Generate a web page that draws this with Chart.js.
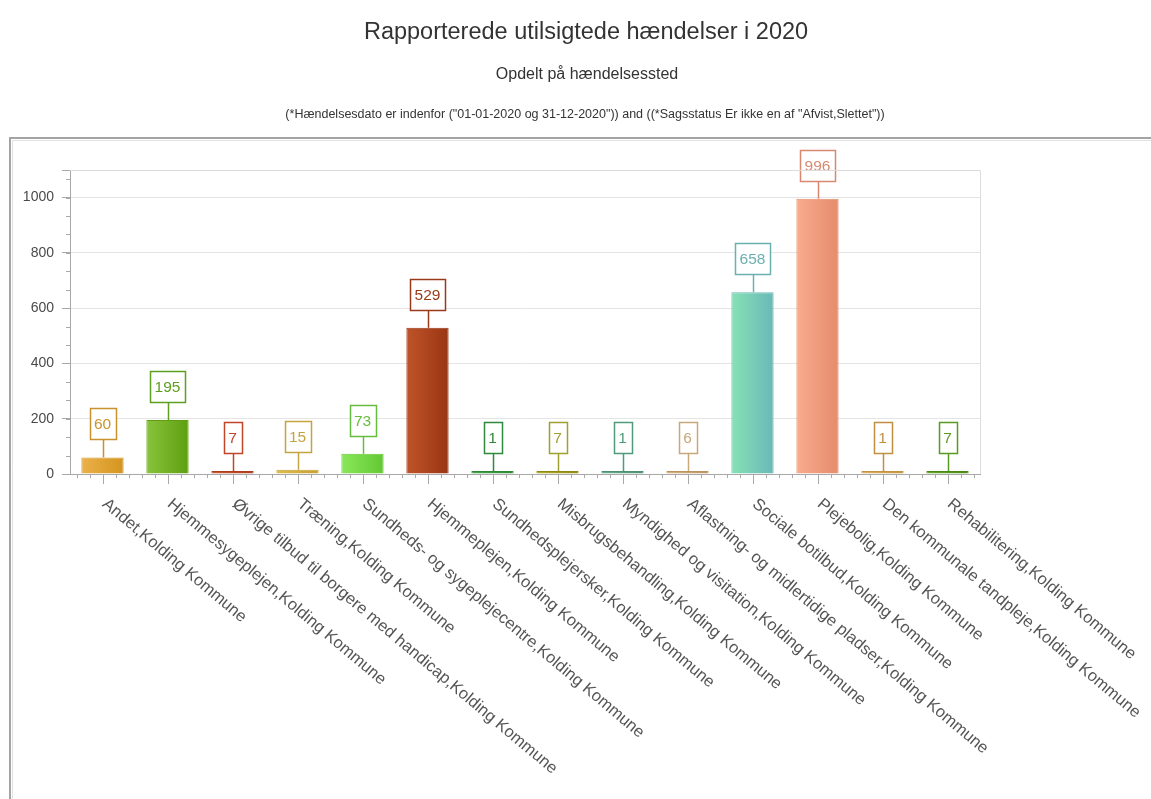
<!DOCTYPE html>
<html>
<head>
<meta charset="utf-8">
<script src="https://cdn.jsdelivr.net/npm/chart.js@4"></script>
<style>
  html, body { margin: 0; padding: 0; background: #fff; }
  #wrap { position: relative; width: 1151px; height: 799px; }
</style>
</head>
<body>
<div id="wrap"><canvas id="chart"></canvas></div>
<script>
'use strict';

const titleText = 'Rapporterede utilsigtede hændelser i 2020';
const subtitleText = 'Opdelt på hændelsessted';
const filterText = '(*Hændelsesdato er indenfor ("01-01-2020 og 31-12-2020")) and ((*Sagsstatus Er ikke en af "Afvist,Slettet"))';

const categories = [
  'Andet,Kolding Kommune',
  'Hjemmesygeplejen,Kolding Kommune',
  'Øvrige tilbud til borgere med handicap,Kolding Kommune',
  'Træning,Kolding Kommune',
  'Sundheds- og sygeplejecentre,Kolding Kommune',
  'Hjemmeplejen,Kolding Kommune',
  'Sundhedsplejersker,Kolding Kommune',
  'Misbrugsbehandling,Kolding Kommune',
  'Myndighed og visitation,Kolding Kommune',
  'Aflastning- og midlertidige pladser,Kolding Kommune',
  'Sociale botilbud,Kolding Kommune',
  'Plejebolig,Kolding Kommune',
  'Den kommunale tandpleje,Kolding Kommune',
  'Rehabilitering,Kolding Kommune',
];
const values = [60, 195, 7, 15, 73, 529, 1, 7, 1, 6, 658, 996, 1, 7];
const yTicks = [0, 200, 400, 600, 800, 1000];

// farver: lys venstre kant, mørk højre kant, label-farve
const barLight = ['#ebb24a', '#88c43c', '#c85a36', '#dcbc4c', '#8ae85a', '#bf5429', '#4aa64e', '#b2ae2c', '#6aae8c', '#d6b484', '#86e2b4', '#f9ac8e', '#ddb262', '#68a82c'];
const barDark = ['#d4941e', '#5e9e10', '#ae3e1c', '#c8a030', '#62c832', '#993513', '#2e8a34', '#908a10', '#4e9274', '#bc9460', '#6ab8b8', '#e48c6c', '#c49440', '#4a8a12'];
const labelColors = ['#c8922a', '#5e9e20', '#c0462a', '#c4a440', '#66bc3c', '#9a3a1a', '#2e8a3a', '#a0a030', '#4e9a7a', '#c8a878', '#6ab0b0', '#d88870', '#c09040', '#5a9a20'];

const FONT = '"Liberation Sans", Arial, sans-serif';

const headerPlugin = {
  id: 'header',
  beforeDraw(chart) {
    const c = chart.ctx;
    c.save();
    // panel kant
    c.strokeStyle = '#a4a4a4';
    c.lineWidth = 2;
    c.beginPath();
    c.moveTo(10, 799);
    c.lineTo(10, 138);
    c.lineTo(1151, 138);
    c.stroke();
    c.strokeStyle = '#e2e2e2';
    c.lineWidth = 1;
    c.beginPath();
    c.moveTo(12.5, 799);
    c.lineTo(12.5, 140.5);
    c.lineTo(1151, 140.5);
    c.stroke();

    c.fillStyle = '#333';
    c.textAlign = 'center';
    c.textBaseline = 'middle';
    c.font = '23.5px ' + FONT;
    c.fillText(titleText, 586, 33);
    c.font = '16px ' + FONT;
    c.fillText(subtitleText, 587, 75);
    c.font = '12.5px ' + FONT;
    c.fillText(filterText, 585, 115);
    c.restore();
  },
};

const axisExtrasPlugin = {
  id: 'axisExtras',
  afterDraw(chart) {
    const c = chart.ctx;
    const { left, right, top, bottom } = chart.chartArea;
    const xs = chart.scales.x;
    const ys = chart.scales.y;
    c.save();
    // ramme top/højre
    c.strokeStyle = '#dcdcdc';
    c.lineWidth = 1;
    c.beginPath();
    c.moveTo(left, top + 0.5);
    c.lineTo(right + 0.5, top + 0.5);
    c.lineTo(right + 0.5, bottom);
    c.stroke();

    // x ticks
    const step = (xs.getPixelForValue(1) - xs.getPixelForValue(0)) / 5;
    c.strokeStyle = '#a8a8a8';
    const c0 = xs.getPixelForValue(0);
    for (let k = -2; k <= categories.length * 5; k++) {
      const x = Math.round(c0 + k * step) + 0.5;
      if (x < left || x > right + 1) continue;
      const major = k % 5 === 0;
      c.beginPath();
      c.moveTo(x, bottom);
      c.lineTo(x, bottom + (major ? 10 : 4));
      c.stroke();
    }
    // y minor ticks
    for (let v = 0; v <= 1100; v += 200 / 3) {
      const y = Math.round(ys.getPixelForValue(v)) + 0.5;
      c.beginPath();
      c.moveTo(left - 4, y);
      c.lineTo(left, y);
      c.stroke();
    }

    // roterede kategorinavne
    c.fillStyle = '#555';
    c.font = '16.5px ' + FONT;
    c.textAlign = 'left';
    c.textBaseline = 'middle';
    categories.forEach((label, i) => {
      const x = xs.getPixelForValue(i);
      c.save();
      c.translate(x + 2, bottom + 28);
      c.rotate((40 * Math.PI) / 180);
      c.fillText(label, 0, 0);
      c.restore();
    });
    c.restore();
  },
};

const valueBoxPlugin = {
  id: 'valueBoxes',
  afterDatasetsDraw(chart) {
    const c = chart.ctx;
    const meta = chart.getDatasetMeta(0);
    c.save();
    c.font = '15.5px ' + FONT;
    c.textAlign = 'center';
    c.textBaseline = 'middle';
    meta.data.forEach((bar, i) => {
      const { x, y } = bar.getProps(['x', 'y'], true);
      const col = labelColors[i];
      const txt = String(values[i]);
      const w = Math.round(c.measureText(txt).width) + 9;
      const h = 31;
      const boxBottom = y - 18;
      c.strokeStyle = col;
      c.lineWidth = 1.5;
      c.beginPath();
      c.moveTo(Math.round(x) + 0.5, y);
      c.lineTo(Math.round(x) + 0.5, boxBottom);
      c.stroke();
      c.fillStyle = '#fff';
      const bx = Math.round(x - w / 2) + 0.5;
      const by = Math.round(boxBottom - h) + 0.5;
      c.fillRect(bx, by, w, h);
      c.strokeRect(bx, by, w, h);
      c.fillStyle = col;
      c.fillText(txt, x, by + h / 2 + 1);
    });
    c.restore();
  },
};

const ctx = document.getElementById('chart').getContext('2d');
new Chart(ctx, {
  type: 'bar',
  data: {
    labels: categories,
    datasets: [
      {
        data: values,
        backgroundColor: context => {
          const chart = context.chart;
          const xs = chart.scales.x;
          if (!chart.chartArea || !xs) return barDark[context.dataIndex];
          const i = context.dataIndex;
          const cw = xs.getPixelForValue(1) - xs.getPixelForValue(0);
          const x = xs.getPixelForValue(i);
          const g = chart.ctx.createLinearGradient(x - cw * 0.33, 0, x + cw * 0.33, 0);
          g.addColorStop(0, barLight[i]);
          g.addColorStop(1, barDark[i]);
          return g;
        },
        borderColor: barDark,
        borderWidth: 1,
        minBarLength: 3,
        barPercentage: 0.65,
        categoryPercentage: 1,
      },
    ],
  },
  options: {
    responsive: true,
    maintainAspectRatio: false,
    animation: false,
    layout: { padding: { top: 170, right: 171, left: 0, bottom: 0 } },
    plugins: {
      legend: { display: false },
      title: { display: false },
      tooltip: { enabled: false },
    },
    scales: {
      x: {
        ticks: { display: false },
        grid: { display: false },
        border: { color: '#a8a8a8' },
        afterFit: scale => { scale.height = 325; },
      },
      y: {
        min: 0,
        max: 1100,
        ticks: {
          stepSize: 200,
          color: '#4a4a4a',
          padding: 8,
          font: { family: FONT, size: 14 },
          callback: v => (yTicks.includes(v) ? v : ''),
        },
        grid: {
          color: '#e4e4e4',
          tickColor: '#a8a8a8',
          tickLength: 8,
        },
        border: { color: '#a8a8a8' },
        afterFit: scale => { scale.width = 70; },
      },
    },
  },
  plugins: [headerPlugin, axisExtrasPlugin, valueBoxPlugin],
});
</script>
</body>
</html>
